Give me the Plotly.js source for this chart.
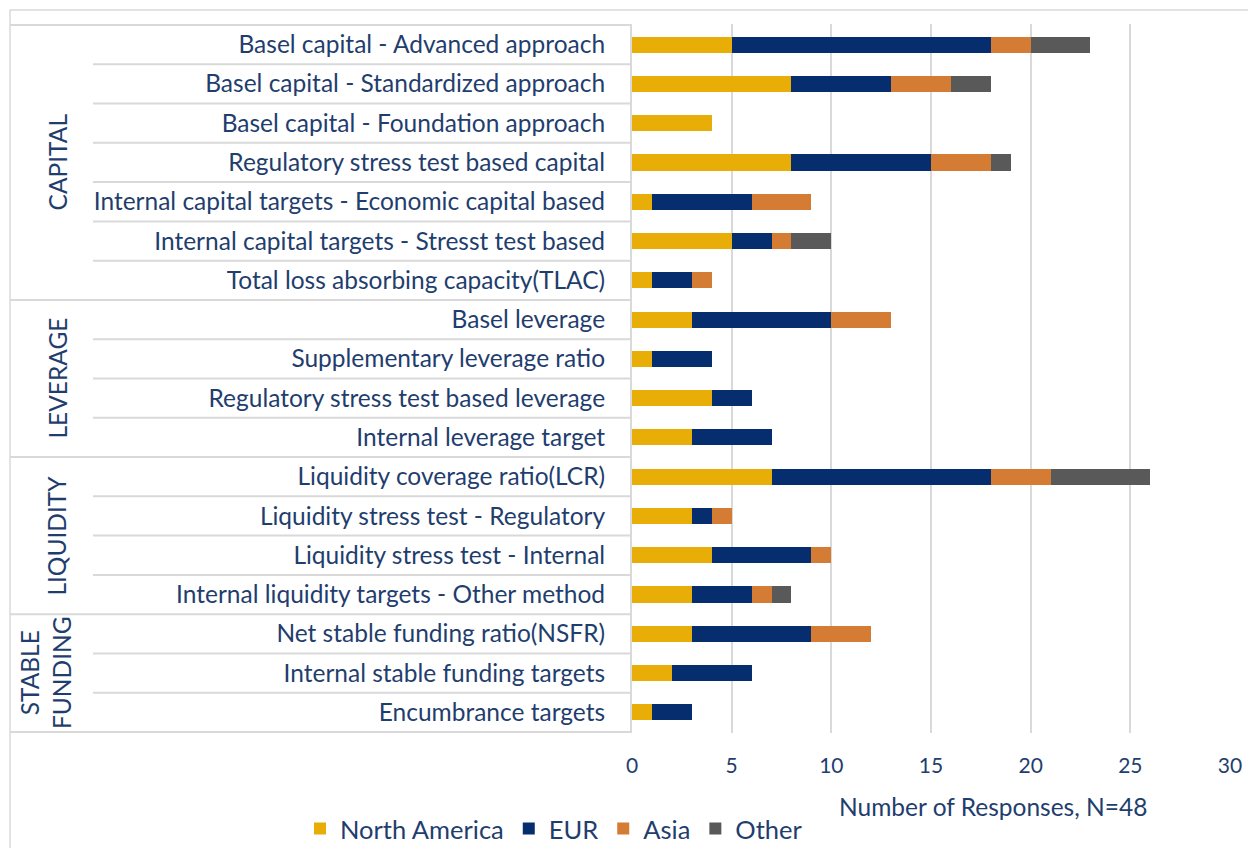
<!DOCTYPE html>
<html>
<head>
<meta charset="utf-8">
<script src="https://cdn.plot.ly/plotly-3.0.1.min.js"></script>
<style>html,body{margin:0;padding:0;background:#fff;}#chart{width:1248px;height:848px;}</style>
</head>
<body>
<div id="chart"></div>
<script>
const categories = [
  "Basel capital - Advanced approach",
  "Basel capital - Standardized approach",
  "Basel capital - Foundation approach",
  "Regulatory stress test based capital",
  "Internal capital targets - Economic capital based",
  "Internal capital targets - Stresst test based",
  "Total loss absorbing capacity(TLAC)",
  "Basel leverage",
  "Supplementary leverage ratio",
  "Regulatory stress test based leverage",
  "Internal leverage target",
  "Liquidity coverage ratio(LCR)",
  "Liquidity stress test - Regulatory",
  "Liquidity stress test - Internal",
  "Internal liquidity targets - Other method",
  "Net stable funding ratio(NSFR)",
  "Internal stable funding targets",
  "Encumbrance targets"
];
const northAmerica = [5, 8, 4, 8, 1, 5, 1, 3, 1, 4, 3, 7, 3, 4, 3, 3, 2, 1];
const eur          = [13, 5, 0, 7, 5, 2, 2, 7, 3, 2, 4, 11, 1, 5, 3, 6, 4, 2];
const asia         = [2, 3, 0, 3, 3, 1, 1, 3, 0, 0, 0, 3, 1, 1, 1, 3, 0, 0];
const other        = [3, 2, 0, 1, 0, 2, 0, 0, 0, 0, 0, 5, 0, 0, 1, 0, 0, 0];
const seriesNames = ["North America", "EUR", "Asia", "Other"];
const groups = [
  {label: "CAPITAL", first: 0, last: 6},
  {label: "LEVERAGE", first: 7, last: 10},
  {label: "LIQUIDITY", first: 11, last: 14},
  {label: "STABLE<br>FUNDING", first: 15, last: 17}
];
const xTicks = [0, 5, 10, 15, 20, 25, 30];
const xTitle = "Number of Responses, N=48";

const colors = ["#E8AD06", "#062D6E", "#D47B34", "#595959"];
const textColor = "#1F3E6E";
const W = 1248, H = 848;
const M = {l: 632, r: 18, t: 24, b: 115, autoexpand: false};
const pw = W - M.l - M.r, ph = H - M.t - M.b;
const px = x => (x - M.l) / pw;
const py = y => (H - M.b - y) / ph;

const values = [northAmerica, eur, asia, other];
const traces = values.map((v, i) => ({
  type: "bar",
  orientation: "h",
  name: seriesNames[i],
  y: categories,
  x: v,
  marker: {color: colors[i], line: {width: 0}},
  hoverinfo: "x+y+name"
}));

const lineColor = "#D9D9D9";
const shapes = [];
shapes.push({type: "rect", xref: "paper", yref: "paper", x0: px(10), x1: px(1260), y0: py(10), y1: py(870),
  line: {color: lineColor, width: 1.5}, fillcolor: "rgba(0,0,0,0)", layer: "below"});
const groupBounds = new Set([-1]);
groups.forEach(g => groupBounds.add(g.last));
for (let i = -1; i < categories.length; i++) {
  const full = groupBounds.has(i);
  shapes.push({type: "line", xref: "paper", yref: "y", x0: px(full ? 10 : 93), x1: 0,
    y0: i + 0.5, y1: i + 0.5, line: {color: lineColor, width: 2}});
}

const annotations = groups.map(g => ({
  xref: "paper", yref: "y", x: px(g.label.includes("<br>") ? 45 : 57), y: (g.first + g.last) / 2,
  text: g.label, textangle: -90, showarrow: false,
  font: {family: "Lato, sans-serif", size: 24.5, color: textColor},
  xanchor: "center", yanchor: "middle"
}));
annotations.push({xref: "paper", yref: "paper", x: px(993), y: py(806), text: xTitle, showarrow: false,
  font: {family: "Lato, sans-serif", size: 24.5, color: textColor}, xanchor: "center", yanchor: "middle"});

const layout = {
  width: W, height: H,
  margin: M,
  barmode: "stack",
  bargap: 0.59,
  paper_bgcolor: "#fff", plot_bgcolor: "#fff",
  font: {family: "Lato, sans-serif", color: textColor},
  xaxis: {
    range: [0, 30], tickvals: xTicks, ticktext: xTicks.map(String),
    showgrid: true, gridcolor: lineColor, gridwidth: 2, zeroline: false,
    showline: false, ticks: "", ticklabelstandoff: 18,
    tickfont: {size: 21, color: textColor}
  },
  yaxis: {
    type: "category", categoryorder: "array", categoryarray: categories, autorange: "reversed",
    showgrid: false, zeroline: false, showline: true, linecolor: lineColor, linewidth: 2,
    ticks: "", ticklabelstandoff: 20,
    tickfont: {size: 24.5, color: textColor}
  },
  legend: {orientation: "h", x: px(300), xanchor: "left", y: py(829), yanchor: "middle",
    font: {size: 25.5, color: textColor}, itemwidth: 30, traceorder: "normal", bgcolor: "rgba(0,0,0,0)"},
  shapes: shapes,
  annotations: annotations
};
Plotly.newPlot("chart", traces, layout, {displayModeBar: false, responsive: false});
</script>
</body>
</html>
